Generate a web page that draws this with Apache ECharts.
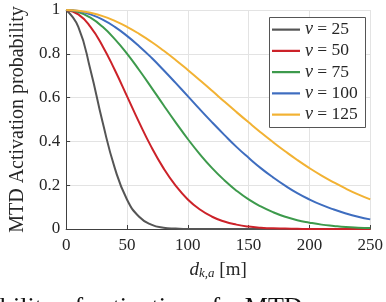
<!DOCTYPE html>
<html>
<head>
<meta charset="utf-8">
<script src="https://cdn.jsdelivr.net/npm/echarts@6/dist/echarts.min.js"></script>
<style>
html,body{margin:0;padding:0;background:#fff;}
#c{width:386px;height:302px;}
</style>
</head>
<body>
<div id="c"></div>
<script>
// Distance d_{k,a} in metres (x values)
const distances = [0,10,20,30,40,50,60,70,80,90,100,110,120,130,140,150,160,170,180,190,200,210,220,230,240,250];
// Activation probability
const nu25  = [1,0.923,0.726,0.487,0.278,0.135,0.056,0.020,0.006,0.002,0.000,0,0,0,0,0,0,0,0,0,0,0,0,0,0,0];
const nu50  = [1,0.980,0.923,0.835,0.726,0.607,0.487,0.375,0.278,0.198,0.135,0.089,0.056,0.034,0.020,0.011,0.006,0.003,0.002,0.001,0,0,0,0,0,0];
const nu75  = [1,0.991,0.965,0.923,0.867,0.801,0.726,0.647,0.566,0.487,0.411,0.341,0.278,0.223,0.175,0.135,0.103,0.077,0.056,0.040,0.029,0.020,0.014,0.009,0.006,0.004];
const nu100 = [1,0.995,0.980,0.956,0.923,0.882,0.835,0.783,0.726,0.667,0.607,0.546,0.487,0.430,0.375,0.325,0.278,0.236,0.198,0.164,0.135,0.110,0.089,0.071,0.056,0.044];
const nu125 = [1,0.997,0.987,0.972,0.950,0.923,0.891,0.855,0.815,0.772,0.726,0.679,0.631,0.582,0.534,0.487,0.441,0.397,0.355,0.315,0.278,0.244,0.213,0.184,0.158,0.135];
const nuLabels = ['25','50','75','100','125'];
const seriesValues = [nu25, nu50, nu75, nu100, nu125];
const colors = ['#555555','#cc2229','#3d9a4c','#3e6dbf','#f2b233'];
// Caption fragment visible at bottom of the picture
const captionText = 'bility of activation of a MTD';

const FONT = '"Liberation Serif", "DejaVu Serif", serif';
const TXT = '#262626';

const series = seriesValues.map((vals, i) => ({
  name: 'ν = ' + nuLabels[i],
  type: 'line',
  data: distances.map((d, j) => [d, vals[j]]),
  smooth: 0.5,
  symbol: 'none',
  lineStyle: { color: colors[i], width: 2 },
  itemStyle: { color: colors[i] }
}));

const chart = echarts.init(document.getElementById('c'), null, { renderer: 'canvas' });
chart.setOption({
  animation: false,
  backgroundColor: '#fff',
  textStyle: { fontFamily: FONT },
  grid: { left: 64, right: 13, top: 10, bottom: 73, containLabel: false },
  xAxis: {
    type: 'value', min: 0, max: 250, interval: 50,
    name: '{d|d}{s|k,a} [m]',
    nameLocation: 'middle', nameGap: 31,
    nameTextStyle: {
      fontFamily: FONT, fontSize: 19, color: TXT,
      rich: {
        d: { fontFamily: FONT, fontSize: 19, fontStyle: 'italic', color: TXT },
        s: { fontFamily: FONT, fontSize: 13, fontStyle: 'italic', color: TXT, padding: [7, 0, 0, 0] }
      }
    },
    axisLine: { show: true, lineStyle: { color: '#404040', width: 1 } },
    axisTick: { show: true, inside: true, length: 4, lineStyle: { color: '#404040' } },
    axisLabel: { fontFamily: FONT, fontSize: 17, color: TXT, margin: 8 },
    splitLine: { show: true, lineStyle: { color: '#e3e3e3', width: 1 } }
  },
  yAxis: {
    type: 'value', min: 0, max: 1, interval: 0.2,
    name: 'MTD Activation probability',
    nameLocation: 'middle', nameGap: 32,
    nameTextStyle: { fontFamily: FONT, fontSize: 20, color: TXT },
    axisLine: { show: true, lineStyle: { color: '#404040', width: 1 } },
    axisTick: { show: true, inside: true, length: 4, lineStyle: { color: '#404040' } },
    axisLabel: { fontFamily: FONT, fontSize: 17, color: TXT, margin: 6,
      formatter: v => (v === 0 ? '0' : v === 1 ? '1' : String(Math.round(v * 10) / 10)) },
    splitLine: { show: true, lineStyle: { color: '#e3e3e3', width: 1 } }
  },
  legend: {
    orient: 'vertical',
    left: 269, top: 17,
    padding: [2, 3, 1, 3],
    itemGap: 0,
    itemWidth: 28, itemHeight: 12,
    borderWidth: 0,
    formatter: name => '{i|ν} = ' + name.split(' = ')[1],
    textStyle: {
      fontFamily: FONT, fontSize: 17.5, color: TXT, lineHeight: 21.25,
      rich: { i: { fontFamily: FONT, fontSize: 18, fontStyle: 'italic', color: TXT, lineHeight: 21.25 } }
    },
    data: series.map(s => ({ name: s.name, icon: 'path://M0,0 L28,0 L28,2.2 L0,2.2 Z', itemStyle: { color: s.lineStyle.color } }))
  },
  graphic: [
    { type: 'rect', z: 3, silent: true,
      shape: { x: 269.5, y: 17.5, width: 96, height: 110 },
      style: { fill: '#fff', stroke: '#555', lineWidth: 1 } },
    { type: 'text', x: 0, y: 295, silent: true,
      style: { text: captionText, fontFamily: FONT, fontSize: 26, fill: '#111', verticalAlign: 'top' } }
  ],
  series: series
});
</script>
</body>
</html>
